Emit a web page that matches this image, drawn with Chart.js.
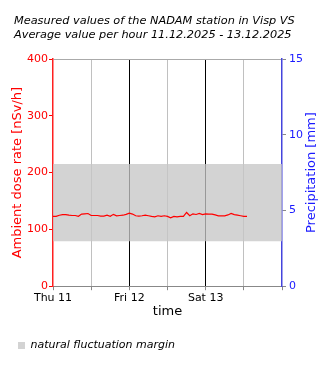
<!DOCTYPE html>
<html>
<head>
<meta charset="utf-8">
<script src="https://cdn.jsdelivr.net/npm/chart.js@4/dist/chart.umd.min.js"></script>
<style>
  html, body { margin: 0; padding: 0; background: #fff; }
  #wrap { width: 330px; height: 370px; }
</style>
</head>
<body>
<div id="wrap"><canvas id="myChart" width="330" height="370"></canvas></div>
<script>
// hourly mean values, Thu 11 00:00 onwards
const dose = [123, 123, 125, 126, 126, 125, 124.5, 124.5, 123, 127, 127.5, 128,
              124.5, 124.5, 124.5, 123.5, 123.3, 125, 123, 126.5, 124, 124.5, 125, 126.5,
              128.5, 127, 124, 123.3, 124, 125, 124, 122.8, 122.2, 124, 122.8, 124,
              123, 120.5, 123, 122.2, 122.8, 123, 129.8, 124, 127.4, 126.3, 128, 126,
              127.4, 126.9, 127, 125.5, 124, 124, 124, 125.5, 128, 126, 125, 124, 123, 123];
const marginLow = [79, 79];
const marginHigh = [215, 215];
const marginHours = [0, 72];
const dayLabels = ["Thu 11", "Fri 12", "Sat 13"];
const titleLines = ["Measured values of the NADAM station in Visp VS",
                    "Average value per hour 11.12.2025 - 13.12.2025"];
const rightTitle = "Precipitation [mm]";

Chart.defaults.font.family = "'DejaVu Sans', Verdana, sans-serif";
Chart.defaults.color = "#000";

// chart.js turns right-hand titles the other way, so this one is drawn here
const rightTitlePlugin = {
  id: 'rightTitle',
  afterDraw(chart) {
    const s = chart.scales.y1;
    const c = chart.ctx;
    c.save();
    c.translate(s.right - 18, (chart.chartArea.top + chart.chartArea.bottom) / 2);
    c.rotate(-Math.PI / 2);
    c.fillStyle = '#1a1aff';
    c.font = "13px 'DejaVu Sans', Verdana, sans-serif";
    c.textAlign = 'center';
    c.textBaseline = 'middle';
    c.fillText(rightTitle, 0, 0);
    c.restore();
  }
};

function gridColor(c) {
  if (!c.tick) return '#c0c0c0';
  const v = c.tick.value;
  if (v === 0 || v === 72) return 'rgba(0,0,0,0)';
  return v % 24 === 0 ? '#000' : '#c0c0c0';
}

const ctx = document.getElementById('myChart').getContext('2d');
const myChart1 = new Chart(ctx, {
  type: 'line',
  data: {
    datasets: [
      {
        label: 'margin low',
        data: marginHours.map((h, i) => ({x: h, y: marginLow[i]})),
        yAxisID: 'y',
        borderWidth: 0,
        pointRadius: 0,
        fill: false,
        order: 2
      },
      {
        label: 'natural fluctuation margin',
        data: marginHours.map((h, i) => ({x: h, y: marginHigh[i]})),
        yAxisID: 'y',
        borderWidth: 0,
        borderColor: 'rgba(0,0,0,0)',
        backgroundColor: 'rgba(198,198,198,0.77)',
        pointRadius: 0,
        fill: '-1',
        order: 1
      },
      {
        label: 'Ambient dose rate',
        data: dose.map((v, i) => ({x: i, y: v})),
        yAxisID: 'y',
        borderColor: '#ff0000',
        borderWidth: 1.2,
        pointRadius: 0,
        tension: 0,
        fill: false,
        order: 0
      }
    ]
  },
  options: {
    responsive: false,
    animation: false,
    events: [],
    layout: { padding: { top: 14, left: 14, right: 0, bottom: 9 } },
    plugins: {
      title: {
        display: true,
        text: titleLines,
        align: 'start',
        color: '#000',
        font: { size: 11.3, style: 'italic', weight: 'normal', lineHeight: 1.24 },
        padding: { top: 0, bottom: 17 }
      },
      legend: {
        position: 'bottom',
        align: 'start',
        labels: {
          boxWidth: 7,
          boxHeight: 7,
          padding: 4,
          color: '#000',
          font: { size: 11, style: 'italic' },
          filter: item => item.datasetIndex === 1
        }
      },
      tooltip: { enabled: false }
    },
    scales: {
      x: {
        type: 'linear',
        min: 0,
        max: 72,
        border: { color: '#888', width: 1 },
        grid: {
          color: gridColor,
          tickColor: '#888',
          tickLength: 4,
          lineWidth: 1
        },
        ticks: {
          stepSize: 12,
          autoSkip: false,
          maxRotation: 0,
          padding: 1,
          color: '#000',
          font: { size: 11 },
          callback: v => (v % 24 === 0 && v < 72) ? dayLabels[v / 24] : ''
        },
        title: {
          display: true,
          text: 'time',
          color: '#000',
          font: { size: 13 },
          padding: { top: -2, bottom: 17 }
        }
      },
      y: {
        position: 'left',
        min: 0,
        max: 400,
        afterFit: s => { s.width = 39; },
        border: { color: '#ff2020', width: 1.5 },
        grid: {
          color: c => (c.tick && c.tick.value === 400) ? '#aaa' : 'rgba(0,0,0,0)',
          tickColor: '#ff0000',
          tickLength: 4
        },
        ticks: { stepSize: 100, padding: 1, color: '#ff0000', font: { size: 11 } },
        title: {
          display: true,
          text: 'Ambient dose rate [nSv/h]',
          color: '#ff0000',
          font: { size: 13 },
          padding: { top: -4, bottom: 0 }
        }
      },
      y1: {
        position: 'right',
        display: true,
        min: 0,
        max: 15,
        afterFit: s => { s.width = 48; },
        border: { color: '#4444dd', width: 1.5 },
        grid: { drawOnChartArea: false, tickColor: '#888', tickLength: 4 },
        ticks: { stepSize: 5, padding: 3, color: '#1a1aff', font: { size: 11 } },
        title: { display: false }
      }
    }
  },
  plugins: [rightTitlePlugin]
});
</script>
</body>
</html>
